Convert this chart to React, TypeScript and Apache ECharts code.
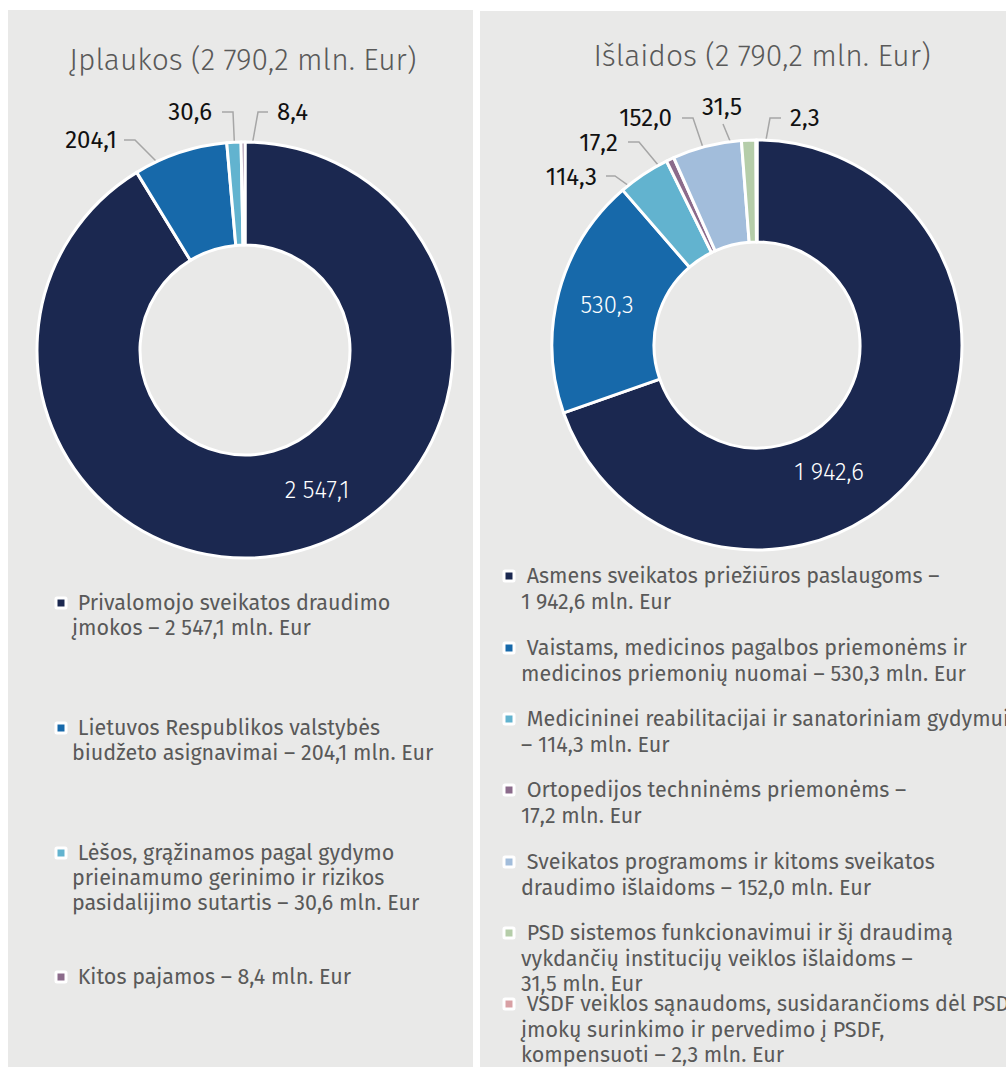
import React, { useEffect, useRef } from "react";
import * as echarts from "echarts";

const FONT = '"Fira Sans", "Open Sans", "Noto Sans", sans-serif';

const leftTitle = "Įplaukos (2 790,2 mln. Eur)";
const rightTitle = "Išlaidos (2 790,2 mln. Eur)";

const leftCategories = [
  "Privalomojo sveikatos draudimo įmokos",
  "Lietuvos Respublikos valstybės biudžeto asignavimai",
  "Lėšos, grąžinamos pagal gydymo prieinamumo gerinimo ir rizikos pasidalijimo sutartis",
  "Kitos pajamos",
];
const leftValues = [2547.1, 204.1, 30.6, 8.4];
const leftColors = ["#1b2850", "#1769aa", "#62b3cf", "#8b6b8b"];
const leftLegendText = [
  " Privalomojo sveikatos draudimo\nįmokos – {v} mln. Eur",
  " Lietuvos Respublikos valstybės\nbiudžeto asignavimai – {v} mln. Eur",
  " Lėšos, grąžinamos pagal gydymo\nprieinamumo gerinimo ir rizikos\npasidalijimo sutartis – {v} mln. Eur",
  " Kitos pajamos – {v} mln. Eur",
];

const rightCategories = [
  "Asmens sveikatos priežiūros paslaugoms",
  "Vaistams, medicinos pagalbos priemonėms ir medicinos priemonių nuomai",
  "Medicininei reabilitacijai ir sanatoriniam gydymui",
  "Ortopedijos techninėms priemonėms",
  "Sveikatos programoms ir kitoms sveikatos draudimo išlaidoms",
  "PSD sistemos funkcionavimui ir šį draudimą vykdančių institucijų veiklos išlaidoms",
  "VSDF veiklos sąnaudoms, susidarančioms dėl PSD įmokų surinkimo ir pervedimo į PSDF, kompensuoti",
];
const rightValues = [1942.6, 530.3, 114.3, 17.2, 152.0, 31.5, 2.3];
const rightColors = ["#1b2850", "#1769aa", "#62b3cf", "#8b6b8b", "#a2bddb", "#b5cda9", "#d8a0a4"];
const rightLegendText = [
  " Asmens sveikatos priežiūros paslaugoms –\n{v} mln. Eur",
  " Vaistams, medicinos pagalbos priemonėms ir\nmedicinos priemonių nuomai – {v} mln. Eur",
  " Medicininei reabilitacijai ir sanatoriniam gydymui\n– {v} mln. Eur",
  " Ortopedijos techninėms priemonėms –\n{v} mln. Eur",
  " Sveikatos programoms ir kitoms sveikatos\ndraudimo išlaidoms – {v} mln. Eur",
  " PSD sistemos funkcionavimui ir šį draudimą\nvykdančių institucijų veiklos išlaidoms –\n{v} mln. Eur",
  " VSDF veiklos sąnaudoms, susidarančioms dėl PSD\nįmokų surinkimo ir pervedimo į PSDF,\nkompensuoti – {v} mln. Eur",
];

// Layout (positions / styles)
const LEFT_PIE = { cx: 245, cy: 350, r0: 105, r1: 208 };
const RIGHT_PIE = { cx: 757, cy: 345, r0: 103, r1: 205 };

// label placement: per data index
type Place = { x: number; y: number; align: string; elbow?: number[]; end?: number[]; inside?: boolean };
const leftPlace: Place[] = [
  { x: 317, y: 490, align: "center", inside: true },
  { x: 117, y: 140, align: "right", elbow: [135, 140], end: [124, 140] },
  { x: 212, y: 112, align: "right", elbow: [233, 112], end: [222, 112] },
  { x: 277, y: 112, align: "left", elbow: [258, 112], end: [268, 112] },
];
const rightPlace: Place[] = [
  { x: 829, y: 472, align: "center", inside: true },
  { x: 607, y: 305, align: "center", inside: true },
  { x: 597, y: 177, align: "right", elbow: [615, 176], end: [606, 176] },
  { x: 618, y: 143, align: "right", elbow: [639, 142], end: [628, 142] },
  { x: 672, y: 118, align: "right", elbow: [693, 118], end: [682, 118] },
  { x: 722, y: 107, align: "center", end: [723, 124] },
  { x: 790, y: 118, align: "left", elbow: [770, 118], end: [781, 118] },
];

const fmt = (v: number) => {
  const [i, d] = v.toFixed(1).split(".");
  return i.replace(/\B(?=(\d{3})+(?!\d))/g, " ") + "," + d;
};

const midPoint = (values: number[], idx: number, pie: typeof LEFT_PIE) => {
  const total = values.reduce((a, b) => a + b, 0);
  let before = 0;
  for (let k = 0; k < idx; k++) before += values[k];
  const th = ((before + values[idx] / 2) / total) * Math.PI * 2;
  const rm = (pie.r0 + pie.r1) / 2;
  return [pie.cx + rm * Math.sin(th), pie.cy - rm * Math.cos(th)];
};

const makeLayout = (values: number[], places: Place[], pie: typeof LEFT_PIE) => (params: any) => {
  const p = places[params.dataIndex];
  const res: any = { x: p.x, y: p.y, align: p.align, verticalAlign: "middle" };
  if (!p.inside) {
    const pts = [midPoint(values, params.dataIndex, pie)];
    if (p.elbow) pts.push(p.elbow);
    if (p.end) pts.push(p.end);
    res.labelLinePoints = pts;
  }
  return res;
};

const makeSeries = (
  name: string,
  cats: string[],
  values: number[],
  colors: string[],
  places: Place[],
  pie: typeof LEFT_PIE
) => ({
  type: "pie",
  name,
  center: [pie.cx, pie.cy],
  radius: [pie.r0, pie.r1],
  startAngle: 90,
  clockwise: true,
  avoidLabelOverlap: false,
  itemStyle: { borderColor: "#ffffff", borderWidth: 3 },
  label: {
    show: true,
    position: "outside",
    formatter: (p: any) => fmt(p.value),
    color: "#111111",
    fontSize: 24,
    fontFamily: FONT,
  },
  labelLine: { show: true, length: 10, length2: 10, lineStyle: { color: "#a6a6a6", width: 1.5 } },
  labelLayout: makeLayout(values, places, pie),
  emphasis: { disabled: true },
  data: values.map((v, i) => ({
    name: cats[i],
    value: v,
    itemStyle: { color: colors[i] },
    ...(places[i].inside
      ? { label: { position: "inside", color: "#ffffff", fontWeight: 300 }, labelLine: { show: false } }
      : {}),
  })),
});

const legendGraphics = (
  texts: string[],
  values: number[],
  colors: string[],
  iconX: number,
  textX: number,
  ys: number[],
  lineH: number
) => {
  const els: any[] = [];
  texts.forEach((t, i) => {
    els.push({
      type: "rect",
      shape: { x: iconX - 5, y: ys[i] - 5, width: 10, height: 10, r: 1 },
      style: { fill: colors[i], stroke: "#ffffff", lineWidth: 3 },
      z: 5,
    });
    els.push({
      type: "text",
      x: textX,
      y: ys[i] - lineH / 2,
      style: {
        text: t.replace("{v}", fmt(values[i])),
        fill: "#595959",
        fontSize: 21.5,
        fontFamily: FONT,
        lineHeight: lineH,
        align: "left",
        verticalAlign: "top",
      },
      z: 5,
    });
  });
  return els;
};

export default function App() {
  const ref = useRef<HTMLDivElement>(null);
  useEffect(() => {
    if (!ref.current) return;
    const chart = echarts.init(ref.current, undefined, { renderer: "svg" });
    chart.setOption({
      animation: false,
      backgroundColor: "#ffffff",
      graphic: [
        { type: "rect", shape: { x: 8, y: 10, width: 465, height: 1057 }, style: { fill: "#e9e9e8" }, z: -10 },
        { type: "rect", shape: { x: 480, y: 11, width: 526, height: 1056 }, style: { fill: "#e9e9e8" }, z: -10 },
        {
          type: "text",
          x: 243,
          y: 60,
          style: { text: leftTitle, fill: "#595959", fontSize: 30, fontWeight: 300, fontFamily: FONT, align: "center", verticalAlign: "middle" },
        },
        {
          type: "text",
          x: 762,
          y: 56,
          style: { text: rightTitle, fill: "#595959", fontSize: 30, fontWeight: 300, fontFamily: FONT, align: "center", verticalAlign: "middle" },
        },
        ...legendGraphics(leftLegendText, leftValues, leftColors, 61, 72, [603, 728, 853, 977], 25),
        ...legendGraphics(rightLegendText, rightValues, rightColors, 509, 521, [576, 648, 719, 790, 862, 933, 1004], 25.5),
      ],
      series: [
        makeSeries("Įplaukos", leftCategories, leftValues, leftColors, leftPlace, LEFT_PIE),
        makeSeries("Išlaidos", rightCategories, rightValues, rightColors, rightPlace, RIGHT_PIE),
      ],
    });
    return () => chart.dispose();
  }, []);
  return (
    <div
      ref={ref}
      style={{ position: "absolute", left: 0, top: 0, width: 1006, height: 1067 }}
    />
  );
}
